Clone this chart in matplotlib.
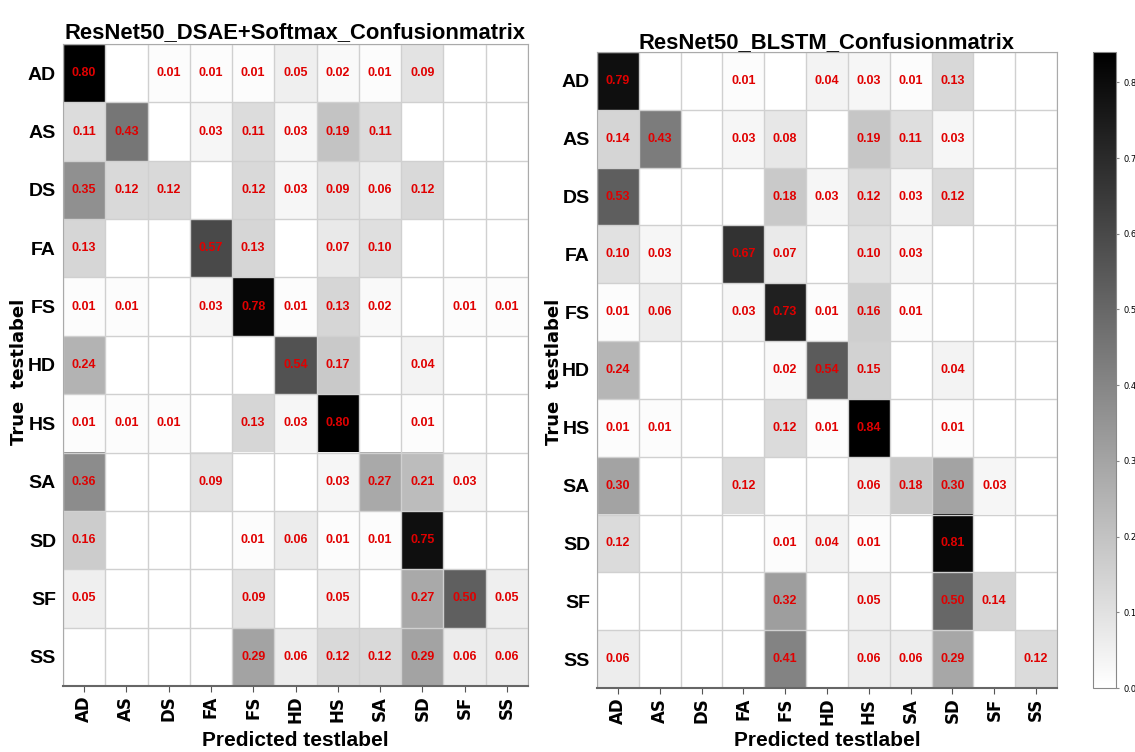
import numpy as np
import matplotlib
matplotlib.use("Agg")
import matplotlib.pyplot as plt

labels = ["AD", "AS", "DS", "FA", "FS", "HD", "HS", "SA", "SD", "SF", "SS"]

cm_dsae = np.array([
    [0.80, 0, 0.01, 0.01, 0.01, 0.05, 0.02, 0.01, 0.09, 0, 0],
    [0.11, 0.43, 0, 0.03, 0.11, 0.03, 0.19, 0.11, 0, 0, 0],
    [0.35, 0.12, 0.12, 0, 0.12, 0.03, 0.09, 0.06, 0.12, 0, 0],
    [0.13, 0, 0, 0.57, 0.13, 0, 0.07, 0.10, 0, 0, 0],
    [0.01, 0.01, 0, 0.03, 0.78, 0.01, 0.13, 0.02, 0, 0.01, 0.01],
    [0.24, 0, 0, 0, 0, 0.54, 0.17, 0, 0.04, 0, 0],
    [0.01, 0.01, 0.01, 0, 0.13, 0.03, 0.80, 0, 0.01, 0, 0],
    [0.36, 0, 0, 0.09, 0, 0, 0.03, 0.27, 0.21, 0.03, 0],
    [0.16, 0, 0, 0, 0.01, 0.06, 0.01, 0.01, 0.75, 0, 0],
    [0.05, 0, 0, 0, 0.09, 0, 0.05, 0, 0.27, 0.50, 0.05],
    [0, 0, 0, 0, 0.29, 0.06, 0.12, 0.12, 0.29, 0.06, 0.06],
])

cm_blstm = np.array([
    [0.79, 0, 0, 0.01, 0, 0.04, 0.03, 0.01, 0.13, 0, 0],
    [0.14, 0.43, 0, 0.03, 0.08, 0, 0.19, 0.11, 0.03, 0, 0],
    [0.53, 0, 0, 0, 0.18, 0.03, 0.12, 0.03, 0.12, 0, 0],
    [0.10, 0.03, 0, 0.67, 0.07, 0, 0.10, 0.03, 0, 0, 0],
    [0.01, 0.06, 0, 0.03, 0.73, 0.01, 0.16, 0.01, 0, 0, 0],
    [0.24, 0, 0, 0, 0.02, 0.54, 0.15, 0, 0.04, 0, 0],
    [0.01, 0.01, 0, 0, 0.12, 0.01, 0.84, 0, 0.01, 0, 0],
    [0.30, 0, 0, 0.12, 0, 0, 0.06, 0.18, 0.30, 0.03, 0],
    [0.12, 0, 0, 0, 0.01, 0.04, 0.01, 0, 0.81, 0, 0],
    [0, 0, 0, 0, 0.32, 0, 0.05, 0, 0.50, 0.14, 0],
    [0.06, 0, 0, 0, 0.41, 0, 0.06, 0.06, 0.29, 0, 0.12],
])

titles = ["ResNet50_DSAE+Softmax_Confusionmatrix", "ResNet50_BLSTM_Confusionmatrix"]

W, H = 1135, 752
fig = plt.figure(figsize=(W / 100, H / 100), dpi=100)

def px(x0, y0, x1, y1):
    return [x0 / W, 1 - y1 / H, (x1 - x0) / W, (y1 - y0) / H]

narrow = dict(family="Liberation Sans", weight="bold")

axes_px = [(63, 44, 528, 686), (597, 52, 1057, 688)]
title_y = [38, 48]
ylab_x = [19, 554]
n = len(labels)

for k, cm in enumerate([cm_dsae, cm_blstm]):
    ax = fig.add_axes(px(*axes_px[k]))
    im = ax.imshow(cm, cmap="gray_r", vmin=0, vmax=cm.max(), aspect="auto",
                   interpolation="nearest")
    for i in range(n):
        for j in range(n):
            if cm[i, j] > 0:
                ax.text(j, i, "%.2f" % cm[i, j], ha="center", va="center",
                        color="#e00000", fontsize=9, **narrow)
    ax.set_xticks(range(n))
    ax.set_yticks(range(n))
    ax.set_xticklabels(labels, rotation=90, fontsize=12, fontweight="bold")
    ax.set_yticklabels(labels, fontsize=14, **narrow)
    ax.set_xticks(np.arange(-0.5, n, 1), minor=True)
    ax.set_yticks(np.arange(-0.5, n, 1), minor=True)
    ax.grid(which="minor", color="#d0d0d0", linewidth=1)
    ax.tick_params(which="minor", length=0)
    ax.tick_params(axis="y", length=0, pad=5)
    ax.tick_params(axis="x", length=4, color="#555555", pad=3)
    for s in ax.spines.values():
        s.set_color("#aaaaaa")
    ax.spines["bottom"].set_color("#666666")
    ax.spines["bottom"].set_linewidth(1.5)
    x0, y0, x1, y1 = axes_px[k]
    xc = (x0 + x1) / 2
    fig.text(xc / W, 1 - title_y[k] / H, titles[k], ha="center", va="baseline",
             fontsize=15.8, **narrow)
    fig.text(xc / W, 1 - 740 / H, "Predicted testlabel", ha="center", va="center",
             fontsize=15, **narrow)
    fig.text(ylab_x[k] / W, 1 - 372 / H, "True  testlabel", ha="center", va="center",
             rotation=90, fontsize=13, fontweight="bold")

cax = fig.add_axes(px(1093, 52, 1116, 688))
cb = fig.colorbar(im, cax=cax)
cb.set_ticks([0.0, 0.1, 0.2, 0.3, 0.4, 0.5, 0.6, 0.7, 0.8])
cb.ax.tick_params(labelsize=6, length=2, color="#888888")
cb.outline.set_edgecolor("#888888")

fig.savefig("out.png", dpi=100)
